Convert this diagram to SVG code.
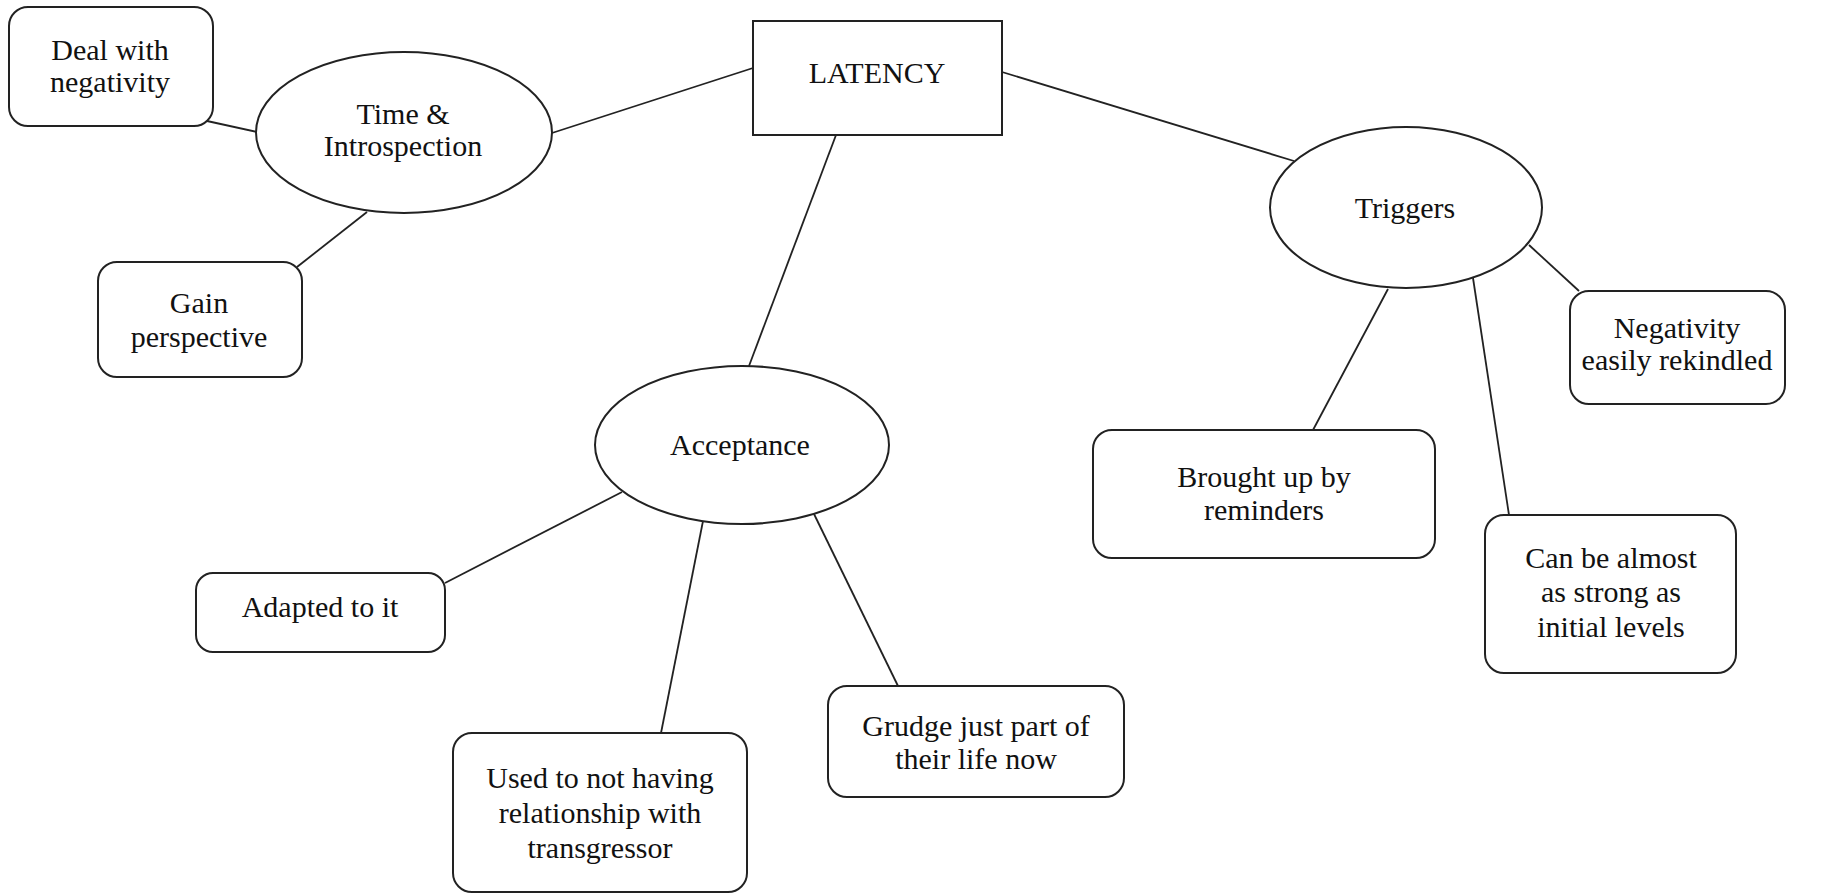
<svg xmlns="http://www.w3.org/2000/svg" width="1823" height="894" viewBox="0 0 1823 894">
<style>
.box{fill:#fff;stroke:#222;stroke-width:2}
.ell{fill:#fff;stroke:#222;stroke-width:2}
.con{stroke:#222;stroke-width:1.8;fill:none}
text{font-family:"Liberation Serif","Times New Roman","DejaVu Serif",serif;font-size:30px;fill:#111;text-anchor:middle}
</style>
<rect width="1823" height="894" fill="#fff"/>
<g id="connectors">
<line class="con" x1="207" y1="121" x2="257" y2="132"/>
<line class="con" x1="367" y1="212" x2="297" y2="267"/>
<line class="con" x1="552" y1="133" x2="753" y2="68"/>
<line class="con" x1="836" y1="135" x2="749" y2="366"/>
<line class="con" x1="1002" y1="72" x2="1294" y2="161"/>
<line class="con" x1="1529" y1="245" x2="1579" y2="291"/>
<line class="con" x1="1388" y1="289" x2="1313" y2="430"/>
<line class="con" x1="1473" y1="278" x2="1509" y2="515"/>
<line class="con" x1="622" y1="492" x2="445" y2="583"/>
<line class="con" x1="703" y1="521" x2="661" y2="733"/>
<line class="con" x1="814" y1="514" x2="898" y2="686"/>
</g>
<g id="latency">
<rect class="box" x="753" y="21" width="249" height="114"/>
<text x="877" y="83">LATENCY</text>
</g>
<g id="time-introspection">
<ellipse class="ell" cx="404" cy="132.5" rx="148" ry="80.5"/>
<text x="403" y="124">Time &amp;</text>
<text x="403" y="156">Introspection</text>
</g>
<g id="deal-with-negativity">
<rect class="box" x="9" y="7" width="204" height="119" rx="19"/>
<text x="110" y="60">Deal with</text>
<text x="110" y="92">negativity</text>
</g>
<g id="gain-perspective">
<rect class="box" x="98" y="262" width="204" height="115" rx="19"/>
<text x="199" y="313">Gain</text>
<text x="199" y="347">perspective</text>
</g>
<g id="triggers">
<ellipse class="ell" cx="1406" cy="207.5" rx="136" ry="80.5"/>
<text x="1405" y="218">Triggers</text>
</g>
<g id="negativity-rekindled">
<rect class="box" x="1570" y="291" width="215" height="113" rx="19"/>
<text x="1677" y="338">Negativity</text>
<text x="1677" y="370">easily rekindled</text>
</g>
<g id="brought-up">
<rect class="box" x="1093" y="430" width="342" height="128" rx="19"/>
<text x="1264" y="487">Brought up by</text>
<text x="1264" y="520">reminders</text>
</g>
<g id="can-be-strong">
<rect class="box" x="1485" y="515" width="251" height="158" rx="19"/>
<text x="1611" y="568">Can be almost</text>
<text x="1611" y="602">as strong as</text>
<text x="1611" y="637">initial levels</text>
</g>
<g id="acceptance">
<ellipse class="ell" cx="742" cy="445" rx="147" ry="79"/>
<text x="740" y="455">Acceptance</text>
</g>
<g id="adapted">
<rect class="box" x="196" y="573" width="249" height="79" rx="17"/>
<text x="320" y="617">Adapted to it</text>
</g>
<g id="used-to-not-having">
<rect class="box" x="453" y="733" width="294" height="159" rx="19"/>
<text x="600" y="788">Used to not having</text>
<text x="600" y="823">relationship with</text>
<text x="600" y="858">transgressor</text>
</g>
<g id="grudge">
<rect class="box" x="828" y="686" width="296" height="111" rx="19"/>
<text x="976" y="736">Grudge just part of</text>
<text x="976" y="769">their life now</text>
</g>
</svg>
